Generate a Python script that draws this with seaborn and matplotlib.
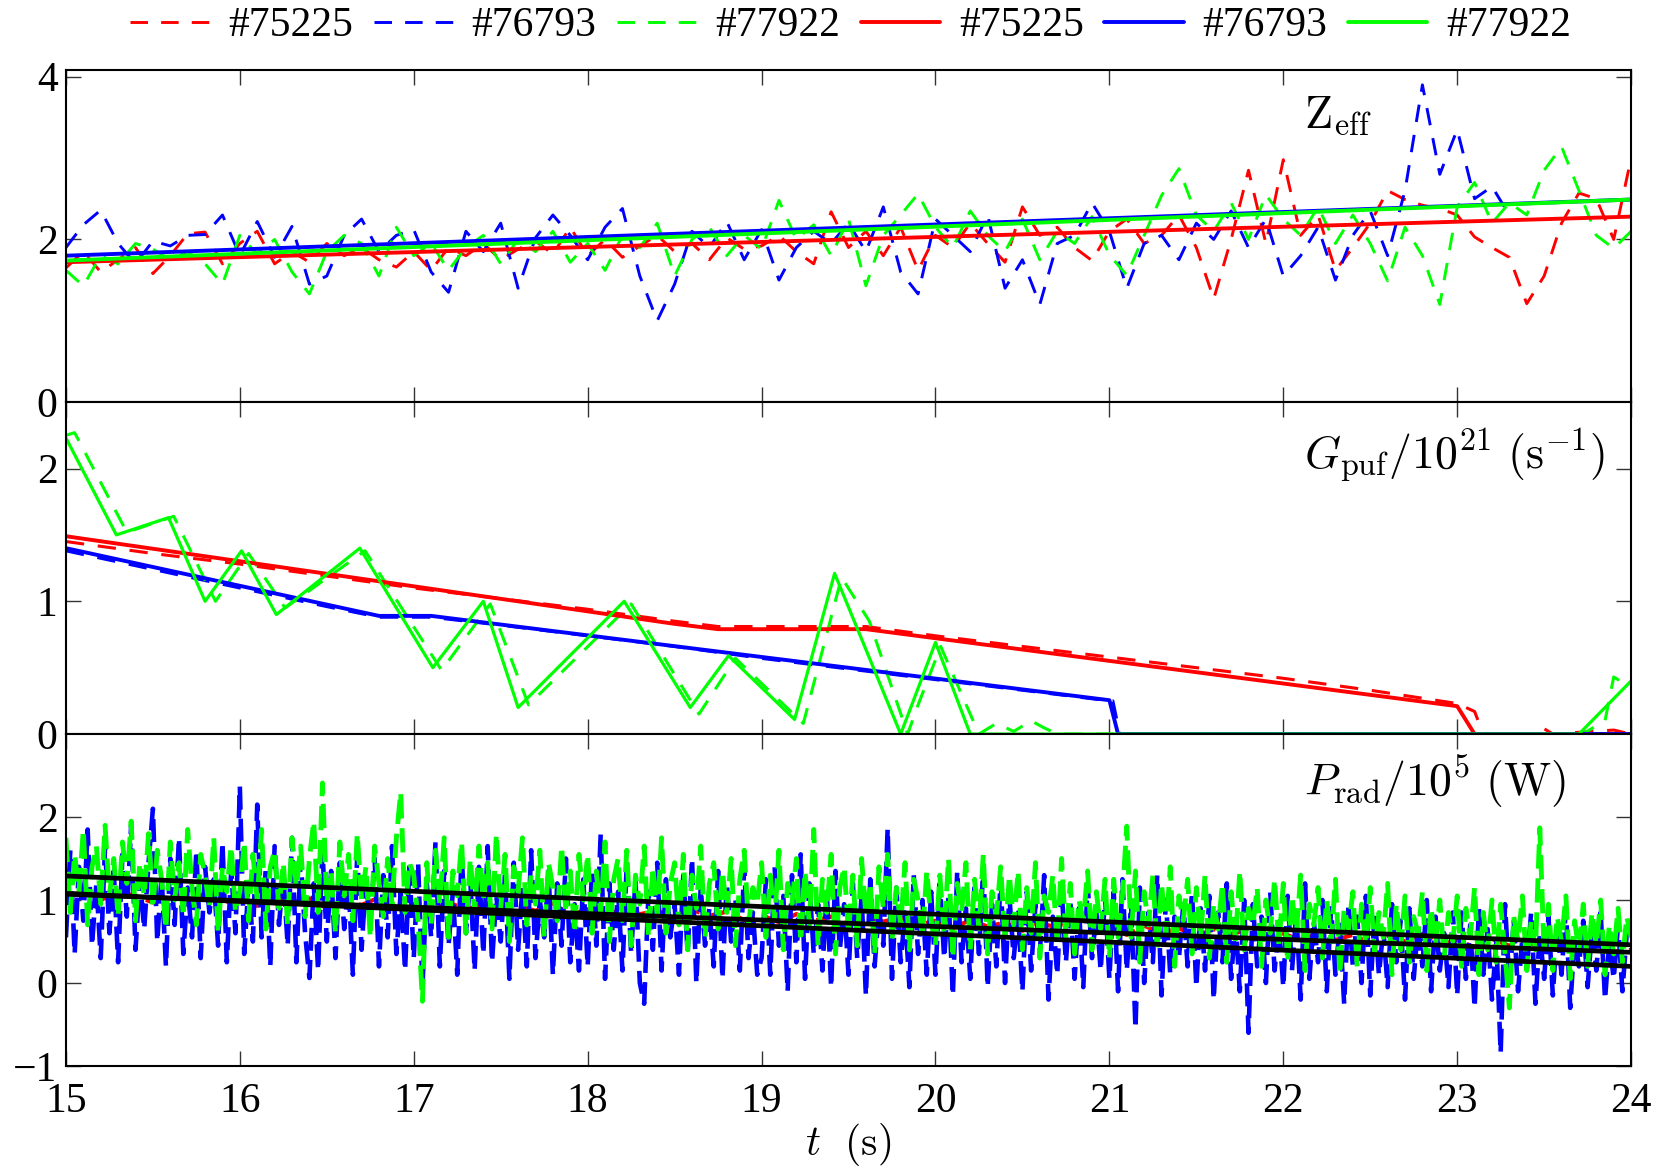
import numpy as np
import matplotlib
matplotlib.use("Agg")
import matplotlib.pyplot as plt
import seaborn as sns

## Values
shots = ["#75225", "#76793", "#77922"]
COLOR_DICT = {"#75225": "#ff0000", "#76793": "#0000ff", "#77922": "#00ff00"}

# Zeff measurements, one sample every 0.1 s (15.0 ... 24.0)
t_zeff = np.linspace(15.0, 24.0, 91)
zeff_75225 = [1.65, 1.85, 1.60, 1.75, 1.90, 1.58, 1.80, 2.07, 2.09, 1.70,
              1.95, 2.10, 1.70, 1.85, 1.72, 1.95, 1.80, 1.90, 1.75, 1.66,
              1.85, 1.62, 1.90, 1.80, 1.95, 1.75, 1.88, 1.98, 1.82, 2.15,
              1.80, 2.00, 1.78, 1.92, 2.05, 1.85, 1.95, 1.75, 2.02, 1.88,
              1.92, 2.05, 1.85, 1.70, 2.34, 1.90, 2.10, 1.80, 2.15, 1.62,
              2.05, 1.90, 2.20, 1.95, 1.72, 2.40, 2.05, 2.15, 1.90, 1.74,
              2.10, 2.25, 1.95, 2.05, 2.30, 1.90, 1.27, 2.00, 2.85, 1.95,
              2.98, 2.05, 2.30, 1.62, 1.90, 2.20, 2.60, 2.49, 2.42, 2.38,
              2.30, 2.03, 1.90, 1.78, 1.21, 1.55, 2.20, 2.57, 2.50, 2.00,
              3.00]
zeff_76793 = [1.90, 2.18, 2.36, 1.95, 1.70, 1.98, 1.92, 2.05, 2.06, 2.30,
              1.80, 2.22, 1.78, 2.16, 1.45, 1.55, 2.05, 2.25, 1.85, 2.05,
              2.12, 1.60, 1.35, 2.10, 1.85, 2.20, 1.40, 2.02, 2.30, 2.05,
              1.75, 2.15, 2.38, 1.55, 1.00, 1.45, 2.10, 1.90, 2.22, 1.75,
              2.12, 1.50, 1.90, 2.10, 1.95, 2.20, 1.85, 2.40, 1.60, 1.33,
              2.25, 2.05, 1.85, 2.30, 1.40, 1.75, 1.20, 1.95, 2.05, 2.45,
              2.10, 1.40, 1.95, 2.05, 1.75, 2.20, 2.00, 2.35, 1.90, 2.25,
              1.55, 1.80, 2.15, 1.50, 2.05, 2.35, 1.80, 2.60, 3.90, 2.80,
              3.35, 2.50, 2.65, 2.30, np.nan, np.nan, np.nan, np.nan, np.nan, np.nan,
              np.nan]
zeff_77922 = [1.62, 1.43, 1.80, 1.70, 1.95, 1.88, 1.75, 1.85, 1.70, 1.45,
              2.05, 1.82, 2.00, 1.60, 1.33, 1.85, 2.05, 1.95, 1.55, 2.15,
              1.80, 1.95, 1.62, 1.90, 2.05, 1.70, 2.00, 1.85, 2.10, 1.72,
              1.95, 1.62, 2.05, 1.90, 2.20, 1.55, 2.00, 2.15, 1.80, 2.05,
              1.88, 2.48, 2.00, 2.18, 1.80, 2.25, 1.43, 2.05, 2.30, 2.56,
              2.15, 1.90, 2.35, 2.05, 1.85, 2.25, 1.75, 2.10, 1.95, 2.28,
              1.81, 1.56, 2.05, 2.54, 2.87, 2.30, 2.10, 2.45, 2.00, 2.55,
              2.25, 2.05, 2.40, 1.95, 2.30, 1.95, 1.49, 2.15, 1.80, 1.20,
              2.40, 2.70, 2.20, 2.45, 2.30, 2.85, 3.14, 2.60, 2.05, 1.89,
              2.10]

# Zeff model (solid lines)
t_fit = [15.0, 24.0]
zeff_fit_75225 = [1.72, 2.28]
zeff_fit_76793 = [1.80, 2.49]
zeff_fit_77922 = [1.74, 2.49]

# Gas puff rate / 1e21 (s^-1): measured (dashed) and model (solid)
t_gpuf_meas_75225 = [15.0, 15.5, 16.0, 16.5, 17.0, 17.5, 18.0, 18.5, 18.75, 19.6, 20.0, 20.5,
                     21.0, 21.5, 22.0, 22.5, 23.0, 23.1, 23.15, 23.45, 23.5, 23.55, 23.9, 24.0]
gpuf_meas_75225 = [1.45, 1.36, 1.28, 1.19, 1.10, 1.02, 0.94, 0.85, 0.81, 0.81, 0.74, 0.66,
                   0.58, 0.50, 0.42, 0.33, 0.23, 0.17, 0.0, 0.0, 0.04, 0.0, 0.03, 0.0]
t_gpuf_meas_76793 = [15.0, 15.5, 16.0, 16.5, 16.8, 17.1, 17.5, 18.0, 18.5, 19.0, 19.5, 20.0,
                     20.5, 21.0, 21.02, 21.06, 24.0]
gpuf_meas_76793 = [1.38, 1.24, 1.10, 0.96, 0.88, 0.88, 0.82, 0.74, 0.66, 0.57, 0.49, 0.41,
                   0.33, 0.25, 0.25, 0.0, 0.0]
t_gpuf_meas_77922 = [15.0, 15.05, 15.35, 15.62, 15.86, 16.05, 16.26, 16.72, 17.16, 17.44, 17.66,
                     18.25, 18.64, 18.85, 19.24, 19.46, 19.62, 19.84, 19.9, 20.03, 20.25, 20.35,
                     20.45, 20.55, 20.62, 20.7, 23.72, 23.85, 23.9, 24.0]
gpuf_meas_77922 = [2.25, 2.27, 1.52, 1.64, 1.00, 1.36, 0.95, 1.38, 0.48, 0.98, 0.22,
                   0.98, 0.15, 0.57, 0.08, 1.18, 0.85, 0.0, 0.22, 0.66, 0.0, 0.08,
                   0.02, 0.10, 0.05, 0.0, 0.0, 0.10, 0.43, 0.35]

t_gpuf_fit_75225 = [15.0, 18.5, 18.75, 19.6, 23.0, 23.1, 24.0]
gpuf_fit_75225 = [1.49, 0.83, 0.79, 0.79, 0.21, 0.0, 0.0]
t_gpuf_fit_76793 = [15.0, 16.8, 17.1, 21.0, 21.05, 24.0]
gpuf_fit_76793 = [1.40, 0.89, 0.89, 0.255, 0.0, 0.0]
t_gpuf_fit_77922 = [15.0, 15.29, 15.59, 15.80, 16.01, 16.21, 16.69, 17.11, 17.40, 17.60,
                    18.21, 18.59, 18.81, 19.19, 19.42, 19.80, 20.00, 20.20, 23.70, 24.0]
gpuf_fit_77922 = [2.23, 1.50, 1.63, 1.00, 1.38, 0.90, 1.40, 0.50, 1.00, 0.20,
                  1.00, 0.20, 0.59, 0.11, 1.21, 0.0, 0.69, 0.0, 0.0, 0.40]

# Radiated power / 1e5 (W), one sample every 0.025 s
t_prad = np.linspace(15.0, 24.0, 361)
prad_76793 = [
    0.55, 1.60, 0.35, 1.40, 0.75, 1.85, 0.45, 1.20, 0.30, 1.65, 0.60, 1.35, 0.25, 1.55, 0.80, 1.90, 0.40, 1.25, 0.65, 1.45,
    2.10, 0.50, 1.30, 0.20, 1.50, 0.70, 1.75, 0.35, 1.15, 0.55, 1.60, 0.30, 1.40, 0.85, 1.25, 0.45, 1.70, 0.25, 1.35, 0.60,
    2.37, 0.35, 1.20, 0.50, 2.15, 0.55, 1.40, 0.20, 1.65, 0.70, 1.30, 0.45, 1.75, 0.25, 1.50, 0.60, 0.06, 1.20, 0.15, 1.60,
    0.50, 1.35, 0.30, 1.45, 0.65, 1.20, 0.10, 1.55, 0.40, 1.25, 0.70, 1.50, 0.20, 1.30, 0.55, 1.65, 0.35, 1.10, 0.15, 1.40,
    0.30, 1.45, -0.05, 1.20, 0.55, 1.70, 0.20, 1.35, 0.45, 1.10, 0.10, 1.55, 0.60, 1.25, 0.15, 1.40, 0.35, 1.65, 0.25, 1.05,
    0.50, 1.30, 0.05, 1.45, 0.40, 1.15, 0.20, 1.60, 0.30, 1.00, 0.55, 1.35, 0.10, 1.20, 0.45, 1.50, 0.25, 0.95, 0.15, 1.25,
    0.20, 1.35, 0.45, 1.80, 0.05, 1.20, 0.40, 1.10, 0.15, 1.45, 0.35, 1.25, 0.00, -0.25, 1.10, 0.40, 1.45, 0.15, 1.25, 0.55,
    0.95, 0.10, 1.30, 0.35, 1.50, 0.00, 1.15, 0.45, 0.90, 0.20, 1.35, 0.05, 1.20, 0.50, 1.00, 0.15, 1.40, 0.30, 0.85, 0.10,
    0.30, 1.25, 0.10, 1.40, 0.45, 1.05, -0.10, 1.30, 0.25, 1.55, 0.05, 1.20, 0.35, 0.95, 0.15, 1.10, -0.05, 1.35, 0.40, 0.95,
    0.10, 1.20, 0.30, 1.05, -0.15, 1.25, 0.20, 0.90, 0.45, 1.86, 0.05, 1.15, 0.25, 0.85, -0.05, 1.30, 0.35, 1.00, 0.10, 1.10,
    0.10, 1.20, 0.30, 1.05, -0.15, 1.35, 0.25, 0.90, 0.05, 1.15, 0.35, 1.40, -0.05, 0.95, 0.20, 1.25, 0.00, 1.05, 0.30, 0.85,
    -0.10, 1.10, 0.15, 0.95, 0.35, 1.30, -0.20, 0.80, 0.10, 1.15, 0.25, 1.00, 0.05, 0.90, -0.05, 1.20, 0.30, 0.85, 0.15, 1.05,
    0.05, 1.10, -0.10, 1.25, 0.15, 0.95, -0.55, 1.15, 0.00, 0.85, 0.25, 1.30, -0.15, 1.00, 0.10, 0.80, 0.30, 0.95, 0.20, 1.10,
    -0.05, 0.90, 0.15, 1.05, -0.20, 0.85, 0.25, 1.20, 0.05, 0.75, -0.10, 1.00, -0.60, 0.95, 0.20, 0.80, 0.00, 1.10, 0.15, 0.70,
    -0.05, 1.05, 0.15, 0.85, -0.20, 1.20, 0.05, 0.75, 0.25, 1.00, -0.10, 0.90, 0.10, 0.70, -0.25, 0.95, 0.20, 0.80, 0.00, 1.05,
    -0.15, 0.85, 0.10, 0.65, -0.05, 0.95, 0.25, 0.75, -0.20, 0.90, 0.05, 0.70, 0.20, 1.00, -0.10, 0.80, 0.15, 0.60, -0.05, 0.85,
    -0.15, 0.85, 0.05, 0.70, -0.30, 0.90, 0.10, 0.65, -0.20, 0.50, -0.84, 0.95, 0.00, 0.75, -0.10, 0.55, 0.15, 0.85, -0.25, 0.60,
    0.05, 0.80, -0.15, 0.70, 0.10, 0.90, -0.30, 0.55, 0.20, 0.75, -0.05, 0.65, 0.15, 0.85, -0.20, 0.50, 0.05, 0.70, -0.10, 0.60,
    0.80]
prad_77922 = [
    1.75, 0.85, 1.55, 1.10, 1.85, 0.70, 1.40, 1.65, 0.95, 1.90, 1.05, 1.50, 0.80, 1.70, 1.20, 1.95, 0.75, 1.45, 1.05, 1.80,
    0.90, 1.60, 1.25, 0.65, 1.70, 1.00, 1.45, 0.80, 1.85, 1.15, 0.70, 1.55, 1.30, 0.90, 1.75, 0.60, 1.40, 1.10, 1.65, 0.85,
    1.10, 1.70, 0.75, 1.55, 1.00, 1.85, 0.65, 1.40, 1.60, 0.90, 1.45, 0.70, 1.75, 1.15, 1.65, 0.80, 1.50, 1.95, 0.85, 2.41,
    0.95, 1.35, 0.60, 1.70, 1.05, 1.55, 0.75, 1.80, 1.00, 1.40, 0.55, 1.65, 1.20, 0.80, 1.50, 0.95, 1.75, 2.30, 0.85, 1.45,
    1.30, 0.75, -0.22, 1.45, 0.70, 1.60, 0.95, 1.75, 0.55, 1.35, 1.05, 1.70, 0.60, 1.50, 0.85, 1.65, 1.00, 1.45, 0.65, 1.80,
    0.90, 1.55, 0.50, 1.40, 1.10, 1.75, 0.70, 1.30, 0.95, 1.60, 0.55, 1.45, 1.15, 0.75, 1.65, 0.85, 1.35, 0.60, 1.55, 1.00,
    1.55, 0.60, 1.35, 0.85, 1.70, 0.50, 1.25, 1.50, 0.75, 1.60, 0.45, 1.30, 0.95, 1.65, 0.55, 1.40, 0.80, 1.75, 0.60, 1.20,
    1.45, 0.70, 1.55, 0.40, 1.30, 0.90, 1.65, 0.55, 1.20, 1.45, 0.65, 1.35, 0.85, 1.50, 0.45, 1.25, 1.60, 0.70, 1.15, 0.95,
    1.45, 0.55, 1.30, 0.75, 1.60, 0.40, 1.20, 0.95, 1.50, 0.50, 1.35, 0.70, 1.85, 0.45, 1.25, 0.85, 1.55, 0.35, 1.15, 1.40,
    0.60, 1.30, 0.45, 1.50, 0.80, 1.20, 0.35, 1.40, 0.90, 1.55, 0.50, 1.15, 0.70, 1.45, 0.40, 1.25, 1.00, 0.55, 1.35, 0.75,
    0.45, 1.30, 0.60, 1.50, 0.30, 1.20, 0.85, 1.45, 0.40, 1.25, 0.65, 1.55, 0.35, 1.10, 0.80, 1.40, 0.50, 1.30, 0.70, 1.35,
    0.40, 1.15, 0.60, 1.45, 0.30, 1.05, 0.85, 1.30, 0.45, 1.50, 0.55, 1.20, 0.35, 1.00, 0.75, 1.35, 0.40, 1.10, 0.65, 1.25,
    0.30, 1.25, 0.55, 1.05, 1.89, 0.55, 1.35, 0.25, 1.10, 0.70, 1.30, 0.40, 1.20, 0.60, 1.40, 0.20, 1.05, 0.75, 1.25, 0.35,
    1.15, 0.55, 1.30, 0.30, 0.95, 0.65, 1.20, 0.25, 1.10, 0.50, 1.35, 0.40, 0.90, 0.70, 1.15, 0.20, 1.00, 0.60, 1.25, 0.45,
    1.20, 0.25, 1.05, 0.60, 1.30, 0.15, 0.95, 0.70, 1.15, 0.30, 1.00, 0.50, 1.25, 0.10, 0.90, 0.65, 1.10, 0.20, 0.95, 0.45,
    1.15, 0.35, 0.85, 0.55, 1.20, 0.10, 0.95, 0.40, 1.05, 0.25, 0.80, 0.60, 1.10, 0.15, 0.90, 0.45, 1.00, 0.30, 0.85, 0.50,
    1.05, 0.20, 0.90, 0.55, 1.15, 0.10, 0.85, 0.40, 1.00, 0.25, 0.95, 0.35, -0.30, 0.80, 0.50, 1.05, 0.15, 0.75, 0.40, 1.87,
    0.35, 0.95, 0.15, 0.80, 0.50, 1.05, 0.05, 0.75, 0.40, 0.95, 0.20, 0.85, 0.45, 1.00, 0.10, 0.70, 0.35, 0.90, 0.25, 0.80,
    0.55]
t_prad_75225 = np.linspace(15.0, 24.0, 91)  # every 0.1 s
prad_75225 = [1.02, 1.12, 1.00, 1.10, 1.05, 0.97, 1.09, 1.01, 1.07, 0.96,
              1.05, 0.93, 1.04, 0.97, 1.02, 0.90, 1.00, 0.94, 1.03, 0.89,
              0.95, 0.86, 0.97, 0.89, 0.94, 0.84, 0.93, 0.87, 0.96, 0.82,
              0.89, 0.80, 0.90, 0.83, 0.87, 0.78, 0.88, 0.81, 0.86, 0.76,
              0.82, 0.73, 0.83, 0.75, 0.80, 0.71, 0.81, 0.74, 0.79, 0.70,
              0.75, 0.66, 0.76, 0.68, 0.73, 0.63, 0.72, 0.67, 0.74, 0.62,
              0.67, 0.58, 0.69, 0.60, 0.66, 0.56, 0.65, 0.59, 0.64, 0.54,
              0.60, 0.51, 0.61, 0.52, 0.58, 0.48, 0.57, 0.50, 0.59, 0.46,
              0.52, 0.43, 0.53, 0.45, 0.50, 0.41, 0.49, 0.42, 0.51, 0.38,
              0.40]
# linear fits of Prad (black)
prad_fit_75225 = [1.07, 0.37]
prad_fit_76793 = [1.08, 0.20]
prad_fit_77922 = [1.29, 0.46]

x_ticks = [15, 16, 17, 18, 19, 20, 21, 22, 23, 24]

## Style
sns.set_theme(style="ticks")
SERIF = "Liberation Serif"
plt.rcParams["font.family"] = "serif"
plt.rcParams["font.serif"] = [SERIF, "DejaVu Serif"]
plt.rcParams["mathtext.fontset"] = "cm"
plt.rcParams["axes.linewidth"] = 1.5
plt.rcParams["text.color"] = "black"
plt.rcParams["axes.labelcolor"] = "black"
plt.rcParams["xtick.labelcolor"] = "black"
plt.rcParams["ytick.labelcolor"] = "black"

DASH = (0, (6, 4.5))
DASH_PRAD = (0, (5, 2))


def line(ax, x, y, color, ls="-", lw=2.5):
    sns.lineplot(x=np.asarray(x, dtype=float), y=np.asarray(y, dtype=float), ax=ax, color=color,
                 linestyle=ls, linewidth=lw, estimator=None, sort=False, legend=False)
    return ax.lines[-1]


def style_axes(ax, ylim, yticks):
    ax.set_facecolor("white")
    ax.set_xlim(15, 24)
    ax.set_ylim(*ylim)
    ax.set_xticks(x_ticks)
    ax.set_yticks(yticks)
    ax.tick_params(direction="in", length=11, width=1.0, color="#333333", labelcolor="black",
                   top=True, right=True, labelsize=30, pad=6)
    ax.tick_params(axis="x", pad=12)
    for sp in ax.spines.values():
        sp.set_color("black")
        sp.set_linewidth(1.5)
    ax.set_xlabel("")
    ax.set_ylabel("")


fig, ax = plt.subplots(3, 1, figsize=(16.61, 11.70), dpi=100, sharex=True, facecolor="white")
fig.subplots_adjust(left=0.0397, right=0.982, top=0.940, bottom=0.0889, hspace=0)

# Zeff panel
handles = []
zeff_meas = {"#75225": zeff_75225, "#76793": zeff_76793, "#77922": zeff_77922}
zeff_fit = {"#75225": zeff_fit_75225, "#76793": zeff_fit_76793, "#77922": zeff_fit_77922}
for s in shots:
    handles.append(line(ax[0], t_zeff, zeff_meas[s], COLOR_DICT[s], DASH, 2.1))
for s in shots:
    handles.append(line(ax[0], t_fit, zeff_fit[s], COLOR_DICT[s], "-", 2.8))
style_axes(ax[0], (0, 4.08), [0, 2, 4])
ax[0].text(0.791, 0.825, r"$\mathrm{Z}_{\mathrm{eff}}$", transform=ax[0].transAxes,
           fontsize=33, ha="left", va="baseline")

# Gas puff panel
line(ax[1], t_gpuf_meas_75225, gpuf_meas_75225, COLOR_DICT["#75225"], DASH, 2.2)
line(ax[1], t_gpuf_meas_76793, gpuf_meas_76793, COLOR_DICT["#76793"], DASH, 2.2)
line(ax[1], t_gpuf_meas_77922, gpuf_meas_77922, COLOR_DICT["#77922"], DASH, 2.2)
line(ax[1], t_gpuf_fit_75225, gpuf_fit_75225, COLOR_DICT["#75225"], "-", 2.8)
line(ax[1], t_gpuf_fit_76793, gpuf_fit_76793, COLOR_DICT["#76793"], "-", 2.8)
line(ax[1], t_gpuf_fit_77922, gpuf_fit_77922, COLOR_DICT["#77922"], "-", 2.3)
style_axes(ax[1], (0, 2.5), [0, 1, 2])
ax[1].text(0.791, 0.80, r"$G_{\mathrm{puf}}/10^{21}\ (\mathrm{s}^{-1})$", transform=ax[1].transAxes,
           fontsize=33, ha="left", va="baseline")

# Prad panel
line(ax[2], t_prad_75225, prad_75225, COLOR_DICT["#75225"], DASH_PRAD, 3.0)
line(ax[2], t_prad, prad_76793, COLOR_DICT["#76793"], DASH_PRAD, 3.3)
line(ax[2], t_prad, prad_77922, COLOR_DICT["#77922"], DASH_PRAD, 3.5)
for fit in [prad_fit_75225, prad_fit_76793, prad_fit_77922]:
    line(ax[2], t_fit, fit, "black", "-", 3.4)
style_axes(ax[2], (-1, 3), [-1, 0, 1, 2])
ax[2].text(0.791, 0.814, r"$P_{\mathrm{rad}}/10^{5}\ (\mathrm{W})$", transform=ax[2].transAxes,
           fontsize=33, ha="left", va="baseline")
ax[2].set_xlabel(r"$t\ \ (\mathrm{s})$", fontsize=30, labelpad=0)

fig.legend(handles, shots + shots, loc="upper center", bbox_to_anchor=(0.512, 1.012), ncol=6,
           frameon=False, prop={"family": SERIF, "size": 30}, handlelength=1.9, handletextpad=0.45,
           columnspacing=0.5, borderaxespad=0.1)

fig.savefig("out.png", dpi=100, facecolor="white")
